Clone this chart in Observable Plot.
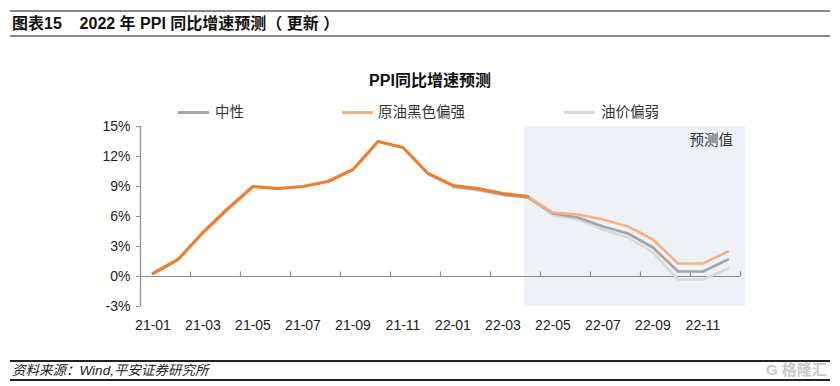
<!DOCTYPE html>
<html><head><meta charset="utf-8">
<script src="https://cdn.jsdelivr.net/npm/d3@7"></script>
<script src="https://cdn.jsdelivr.net/npm/@observablehq/plot@0.6"></script>
<style>
body{margin:0;background:#fff;}
#wrap{position:relative;width:840px;height:386px;overflow:hidden;font-family:"Liberation Sans","Noto Sans CJK SC",sans-serif;color:#222;}
.abs{position:absolute;white-space:nowrap;}
.hr{position:absolute;left:10px;width:820px;}
.lg{position:absolute;height:3px;width:31px;}
.lt{position:absolute;font-size:14.5px;line-height:16px;color:#333;}
</style></head>
<body><div id="wrap"></div>
<script>
const months = ["21-01","21-02","21-03","21-04","21-05","21-06","21-07","21-08","21-09","21-10","21-11","21-12",
                "22-01","22-02","22-03","22-04","22-05","22-06","22-07","22-08","22-09","22-10","22-11","22-12"];
const actual = [0.3,1.7,4.4,6.8,9.0,8.8,9.0,9.5,10.7,13.5,12.9,10.3,9.1,8.8,8.3,8.0]; // 21-01..22-04
const strongStart = "22-04";
const strong = [8.0,6.4,6.2,5.7,5.0,3.7,1.3,1.3,2.5];            // 原油黑色偏强 22-04..22-12
const midStart = "22-01";
const mid = [9.0,8.7,8.2,7.9,6.3,5.9,5.0,4.3,2.9,0.5,0.5,1.7];  // 中性 22-01..22-12
const weak = [8.9,8.6,8.1,7.9,6.1,5.7,4.7,3.9,2.4,-0.3,-0.3,0.8]; // 油价偏弱 22-01..22-12
const yTicks = [-3,0,3,6,9,12,15];
const xLabelMonths = ["21-01","21-03","21-05","21-07","21-09","21-11","22-01","22-03","22-05","22-07","22-09","22-11"];
const forecastFrom = 14.85, forecastTo = 23.7;
const forecastLabel = "预测值";

const idx = m => months.indexOf(m);
const toSeries = (arr, start) => arr.map((v,i)=>({x: idx(start)+i, y: v}));
const actualData = actual.map((v,i)=>({x:i,y:v}));
const strongData = toSeries(strong, strongStart);
const midData = toSeries(mid, midStart);
const weakData = toSeries(weak, midStart);
const boundaries = d3.range(-0.5, months.length, 2);

const font = '"Liberation Sans","Noto Sans CJK SC",sans-serif';
const chart = Plot.plot({
  width: 840, height: 386,
  marginLeft: 140, marginRight: 100, marginTop: 126, marginBottom: 80,
  style: {fontFamily: font, fontSize: "14px", color: "#222", background: "transparent"},
  x: {domain: [-0.5, months.length - 0.5]},
  y: {domain: [-3, 15]},
  marks: [
    Plot.rect([{x1: forecastFrom, x2: forecastTo}], {x1:"x1", x2:"x2", y1:-3, y2:15, fill:"#EEF1F6"}),
    Plot.ruleY([0], {x1:-0.5, x2:23.5, stroke:"#8c8c8c", strokeWidth:1.2}),
    Plot.ruleX(boundaries.concat([23.5]), {y1:0, y2:0.45, stroke:"#8c8c8c", strokeWidth:1.2}),
    Plot.ruleX([-0.5], {y1:-3, y2:15, stroke:"#8c8c8c", strokeWidth:1.2}),
    Plot.axisY({ticks: yTicks, tickFormat: d => d + "%", tickSize: 4, tickPadding: 6, stroke:"#8c8c8c", label: null, fontSize: 14}),
    Plot.axisX({ticks: xLabelMonths.map(idx), tickFormat: d => months[d], tickSize: 0, tickPadding: 14, label: null, fontSize: 14}),
    Plot.line(weakData, {x:"x", y:"y", stroke:"#D9D9D9", strokeWidth:2.6}),
    Plot.line(midData, {x:"x", y:"y", stroke:"#A5A5A5", strokeWidth:2.6}),
    Plot.line(strongData, {x:"x", y:"y", stroke:"#F4B183", strokeWidth:2.6}),
    Plot.line(actualData, {x:"x", y:"y", stroke:"#ED7D31", strokeWidth:3.2}),
    Plot.text([forecastLabel], {x: forecastTo - 0.5, y: 13.6, text: d=>d, textAnchor:"end", fontSize:14.5, fill:"#333"})
  ]
});
chart.style.position = "absolute"; chart.style.left = "0px"; chart.style.top = "0px";
const wrap = document.getElementById("wrap");
wrap.appendChild(chart);

function add(html){ wrap.insertAdjacentHTML("beforeend", html); }
// header
add('<div class="hr" style="top:10px;height:2px;background:#8a8a8a"></div>');
add('<div class="abs" style="left:12px;top:14px;font-size:16px;font-weight:bold;line-height:20px;color:#111">图表15&nbsp;&nbsp;&nbsp;&nbsp;2022 年 PPI 同比增速预测（ 更新 ）</div>');
add('<div class="hr" style="top:35px;height:2px;background:#8a8a8a"></div>');
// chart title
add('<div class="abs" style="left:0;width:860px;text-align:center;top:71px;font-size:16px;font-weight:bold;line-height:20px;color:#111">PPI同比增速预测</div>');
// legend
add('<div class="lg" style="left:178px;top:111px;background:#A5A5A5"></div><div class="lt" style="left:215px;top:104px">中性</div>');
add('<div class="lg" style="left:342px;top:111px;background:#F4B183"></div><div class="lt" style="left:378px;top:104px">原油黑色偏强</div>');
add('<div class="lg" style="left:564px;top:111px;background:#D9D9D9"></div><div class="lt" style="left:601px;top:104px">油价偏弱</div>');
// footer
add('<div class="hr" style="top:360px;height:1.5px;background:#222"></div>');
add('<div class="abs" style="left:12px;top:362px;font-size:13.5px;font-style:italic;line-height:17px;color:#222">资料来源：Wind,平安证券研究所</div>');
add('<div class="hr" style="top:379px;height:1.5px;background:#222"></div>');
add('<div class="abs" style="left:766px;top:361px;font-size:15px;line-height:18px;color:#c9c9c9;font-weight:bold">G 格隆汇</div>');
</script></body></html>
